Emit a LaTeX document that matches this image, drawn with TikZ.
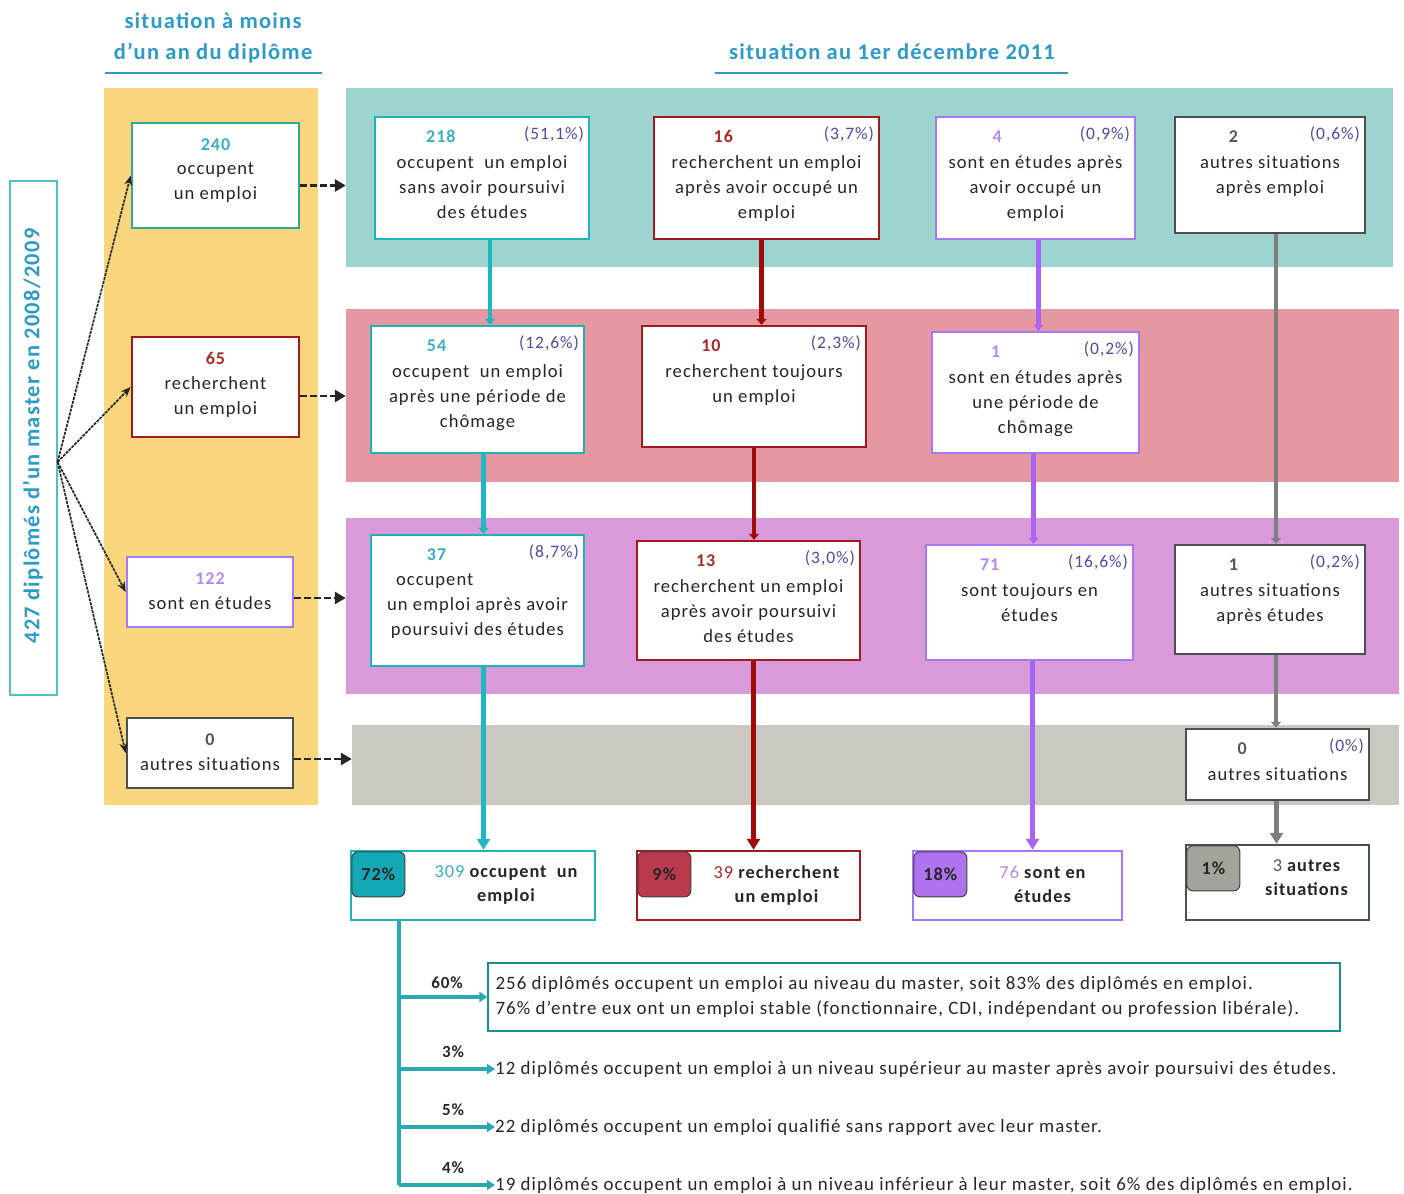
\documentclass[tikz,border=0pt]{standalone}
\usepackage{fontspec}
\setmainfont{Carlito}[LetterSpace=5.5]
\usetikzlibrary{arrows.meta,calc,fit}
\definecolor{yellowband}{HTML}{F9D67E}
\definecolor{tealband}{HTML}{9DD4CF}
\definecolor{pinkband}{HTML}{E597A2}
\definecolor{violetband}{HTML}{D89AD8}
\definecolor{grayband}{HTML}{CAC8C0}
\definecolor{headblue}{HTML}{2E9BC6}
\definecolor{bdteal}{HTML}{1FB3B8}
\definecolor{bdgreen}{HTML}{2FA896}
\definecolor{bdred}{HTML}{A01A1E}
\definecolor{bdvio}{HTML}{A778F5}
\definecolor{bdgry}{HTML}{4A4F4F}
\definecolor{numteal}{HTML}{3AAFBF}
\definecolor{numgreen}{HTML}{3AAFBF}
\definecolor{numred}{HTML}{A52A2A}
\definecolor{numvio}{HTML}{B58AE6}
\definecolor{numgry}{HTML}{555555}
\definecolor{conteal}{HTML}{1DB8C2}
\definecolor{conred}{HTML}{A00A0A}
\definecolor{convio}{HTML}{A864F8}
\definecolor{congry}{HTML}{7F7F7F}
\definecolor{bgteal}{HTML}{14A8B4}
\definecolor{bgred}{HTML}{B83A4C}
\definecolor{bgvio}{HTML}{B073F0}
\definecolor{bggry}{HTML}{A2A39A}
\definecolor{pctcol}{HTML}{4B4BA6}
\definecolor{txt}{HTML}{262626}
\definecolor{treecol}{HTML}{29AAB2}

\newcommand{\flowbox}[9]{%
  \node[fit={(#3,#4)(#5,#6)}, inner sep=0pt, draw=bd#2, line width=2.4pt, fill=white] (#1) {};
  \node[numtxt, text=num#2] at ($(#1.north west)!0.31!(#1.north east)+(0,21)$) {#7};
  \node[pcttxt, anchor=north east] at ($(#1.north east)+(-6,11)$) {#8};
  \node[bodytxt, anchor=north] at ($(#1.north)+(0,40)$) {#9};
}
\newcommand{\leftbox}[7]{%
  \node[fit={(#3,#4)(#5,#6)}, inner sep=0pt, draw=bd#2, line width=2.6pt, fill=white] (#1) {};
  \node[numtxt, text=num#2] at ($(#1.north)+(0,23)$) {#7};
}
\newcommand{\finalbox}[9]{%
  \node[fit={(#3,#4)(#5,#6)}, inner sep=0pt, draw=bd#2, line width=2.4pt, fill=white] (#1) {};
  \node[fit={($(#1.north west)+(2,2)$)($(#1.north west)+(55,47)$)}, inner sep=0pt, draw=black!75, line width=1pt, rounded corners=6pt, fill=bg#2] (#1p) {};
  \node[endtxt] at (#1p.center) {#7};
  \node[endtxt, anchor=north] at ($(#1.north)+(#8,16)$) {#9};
}

\begin{document}
\begin{tikzpicture}[x=1pt, y=-1pt,
  every node/.style={text=txt},
  numtxt/.style={font=\fontsize{18}{22}\selectfont\bfseries, inner sep=0pt},
  pcttxt/.style={font=\fontsize{17.5}{22}\selectfont, text=pctcol, inner sep=0pt},
  bodytxt/.style={font=\fontsize{18.6}{25}\selectfont, align=center, inner sep=0pt},
  endtxt/.style={font=\fontsize{18.3}{24}\selectfont\bfseries, align=center, inner sep=0pt},
  head/.style={font=\fontsize{22.5}{31}\selectfont\bfseries, text=headblue, align=center, inner sep=0pt},
  headline/.style={draw=headblue, line width=2.5pt},
  band/.style={inner sep=0pt, draw=none},
  srcarrow/.style={draw=black!85, line width=1.7pt, dash pattern=on 3pt off 1pt, -{Stealth[length=10pt,width=8pt]}},
  dasharrow/.style={draw=black!85, line width=2.8pt, dash pattern=on 7pt off 3pt, -{Triangle[length=11pt,width=12pt]}},
  midtip/.style={-{Triangle[length=6pt,width=10pt]}},
  endtip/.style={-{Triangle[length=11pt,width=13pt]}},
  vconn/.style={line width=4.5pt},
  bottxt/.style={font=\fontsize{18.9}{25}\selectfont, align=left, inner sep=0pt},
  treelbl/.style={font=\fontsize{17}{20}\selectfont\bfseries, inner sep=0pt}
]
\useasboundingbox (0,0) rectangle (1404,1193);
\fill[white] (0,0) rectangle (1404,1193);

% headers
\node[head] (h1) at (213,38) {situation à moins\\d’un an du diplôme};
\draw[headline] (105,73) -- (322,73);
\node[head] (h2) at (892,52) {situation au 1er décembre 2011};
\draw[headline] (715,73) -- (1068,73);

% bands
\node[band, fill=yellowband, fit={(104,88)(318,805)}] (bandY) {};
\node[band, fill=tealband, fit={(346,88)(1393,267)}] (bandT) {};
\node[band, fill=pinkband, fit={(346,309)(1399,482)}] (bandP) {};
\node[band, fill=violetband, fit={(346,518)(1399,694)}] (bandV) {};
\node[band, fill=grayband, fit={(352,725)(1399,805)}] (bandG) {};

% source box
\node[fit={(10,181)(57,695)}, inner sep=0pt, draw=bdteal!80, line width=1.2pt] (src) {};
\node[rotate=90, font=\fontsize{22.5}{24}\selectfont\bfseries, text=headblue, inner sep=0pt] at (33,436) {427 diplômés d’un master en 2008/2009};
\coordinate (orig) at ($(src.east)+(0,24)$);

% left column boxes
\leftbox{b240}{green}{132}{123}{299}{228}{240}
\node[bodytxt, anchor=north] at ($(b240.north)+(0,41)$) {occupent\\un emploi};
\leftbox{b65}{red}{132}{337}{299}{437}{65}
\node[bodytxt, anchor=north] at ($(b65.north)+(0,41)$) {recherchent\\un emploi};
\leftbox{b122}{vio}{127}{557}{293}{627}{122}
\node[bodytxt, anchor=north] at ($(b122.north)+(0,41)$) {sont en études};
\leftbox{b0}{gry}{127}{718}{293}{788}{0}
\node[bodytxt, anchor=north] at ($(b0.north)+(0,41)$) {autres situations};

% source arrows
\draw[srcarrow] (orig) -- (b240.west);
\draw[srcarrow] (orig) -- (b65.west);
\draw[srcarrow] (orig) -- (b122.west);
\draw[srcarrow] (orig) -- (b0.west);

% dashed arrows to bands
\coordinate (a1) at ($(b240.east)+(0,10)$);
\coordinate (a2) at ($(b65.east)+(0,9)$);
\coordinate (a3) at ($(b122.east)+(0,6)$);
\coordinate (a4) at ($(b0.east)+(0,6)$);
\draw[dasharrow] (a1) -- (a1 -| bandT.west);
\draw[dasharrow] (a2) -- (a2 -| bandP.west);
\draw[dasharrow] (a3) -- (a3 -| bandV.west);
\draw[dasharrow] (a4) -- (a4 -| bandG.west);

% row 1
\flowbox{b218}{teal}{375}{117}{589}{239}{218}{(51,1\%)}{occupent\ \ un emploi\\sans avoir poursuivi\\des études}
\flowbox{b16}{red}{654}{117}{879}{239}{16}{(3,7\%)}{recherchent un emploi\\après avoir occupé un\\emploi}
\flowbox{b4}{vio}{936}{117}{1135}{239}{4}{(0,9\%)}{sont en études après\\avoir occupé un\\emploi}
\flowbox{b2}{gry}{1175}{117}{1365}{233}{2}{(0,6\%)}{autres situations\\après emploi}
% row 2
\flowbox{b54}{teal}{371}{326}{584}{453}{54}{(12,6\%)}{occupent\ \ un emploi\\après une période de\\chômage}
\flowbox{b10}{red}{642}{326}{866}{447}{10}{(2,3\%)}{recherchent toujours\\un emploi}
\flowbox{b1v}{vio}{932}{332}{1139}{453}{1}{(0,2\%)}{sont en études après\\une période de\\chômage}
% row 3
\flowbox{b37}{teal}{371}{535}{584}{666}{37}{(8,7\%)}{occupent\hspace*{4.6em}\\un emploi après avoir\\poursuivi des études}
\flowbox{b13}{red}{637}{541}{860}{660}{13}{(3,0\%)}{recherchent un emploi\\après avoir poursuivi\\des études}
\flowbox{b71}{vio}{926}{545}{1133}{660}{71}{(16,6\%)}{sont toujours en\\études}
\flowbox{b1g}{gry}{1175}{545}{1365}{654}{1}{(0,2\%)}{autres situations\\après études}
% row 4
\flowbox{b0g}{gry}{1186}{729}{1369}{800}{0}{(0\%)}{autres situations}

% end boxes
\finalbox{e72}{teal}{351}{851}{595}{920}{72\%}{33}{{\mdseries\color{numteal}309} occupent\ \ un\\emploi}
\finalbox{e9}{red}{637}{851}{860}{920}{9\%}{28}{{\mdseries\color{numred}39} recherchent\\un emploi}
\finalbox{e18}{vio}{913}{851}{1122}{920}{18\%}{25}{{\mdseries\color{numvio}76} sont en\\études}
\finalbox{e1}{gry}{1186}{845}{1369}{920}{1\%}{29}{{\mdseries\color{numgry}3} autres\\situations}

% vertical connectors
\draw[vconn, draw=conteal, midtip] (b218.south) ++(8,0) coordinate (t1) -- (t1 |- b54.north);
\draw[vconn, draw=conteal, midtip] (b54.south) ++(6,0) coordinate (t2) -- (t2 |- b37.north);
\draw[vconn, draw=conteal, endtip] (b37.south) ++(6,0) coordinate (t3) -- (t3 |- e72.north);

\draw[vconn, draw=conred, midtip] (b16.south) ++(-5,0) coordinate (r1) -- (r1 |- b10.north);
\draw[vconn, draw=conred, midtip] (b10.south) coordinate (r2) -- (r2 |- b13.north);
\draw[vconn, draw=conred, endtip] (b13.south) ++(5,0) coordinate (r3) -- (r3 |- e9.north);

\draw[vconn, draw=convio, midtip] (b4.south) ++(3,0) coordinate (v1) -- (v1 |- b1v.north);
\draw[vconn, draw=convio, midtip] (b1v.south) ++(-2,0) coordinate (v2) -- (v2 |- b71.north);
\draw[vconn, draw=convio, endtip] (b71.south) ++(3,0) coordinate (v3) -- (v3 |- e18.north);

\draw[vconn, draw=congry, midtip] (b2.south) ++(6,0) coordinate (g1) -- (g1 |- b1g.north);
\draw[vconn, draw=congry, midtip] (b1g.south) ++(6,0) coordinate (g2) -- (g2 |- b0g.north);
\draw[vconn, draw=congry, endtip] (b0g.south) ++(-1,0) coordinate (g3) -- (g3 |- e1.north);

% bottom breakdown
\node[fit={(488,963)(1340,1031)}, inner sep=0pt, draw=bdteal!80!black, line width=1.2pt] (d60) {};
\node[bottxt, anchor=north west] at ($(d60.north west)+(8,14)$) {256 diplômés occupent un emploi au niveau du master, soit 83\% des diplômés en emploi.\\76\% d’entre eux ont un emploi stable (fonctionnaire, CDI, indépendant ou profession libérale).};
\node[bottxt, anchor=west] (d3) at (495,1069) {12 diplômés occupent un emploi à un niveau supérieur au master après avoir poursuivi des études.};
\node[bottxt, anchor=west] (d5) at (495,1127) {22 diplômés occupent un emploi qualifié sans rapport avec leur master.};
\node[bottxt, anchor=west] (d4) at (495,1185) {19 diplômés occupent un emploi à un niveau inférieur à leur master, soit 6\% des diplômés en emploi.};

\coordinate (trunk) at ($(e72.south west)+(49,0)$);
\draw[draw=treecol, line width=4pt] (trunk) -- (trunk |- d4.west);
\draw[draw=treecol, line width=4pt, -{Triangle[length=8pt,width=10pt]}] (trunk |- d60.west) -- (d60.west);
\draw[draw=treecol, line width=4pt, -{Triangle[length=8pt,width=10pt]}] (trunk |- d3.west) -- (d3.west);
\draw[draw=treecol, line width=4pt, -{Triangle[length=8pt,width=10pt]}] (trunk |- d5.west) -- (d5.west);
\draw[draw=treecol, line width=4pt, -{Triangle[length=8pt,width=10pt]}] (trunk |- d4.west) -- (d4.west);
\node[treelbl] at (447,983) {60\%};
\node[treelbl] at (453,1052) {3\%};
\node[treelbl] at (453,1110) {5\%};
\node[treelbl] at (453,1168) {4\%};
\end{tikzpicture}
\end{document}
